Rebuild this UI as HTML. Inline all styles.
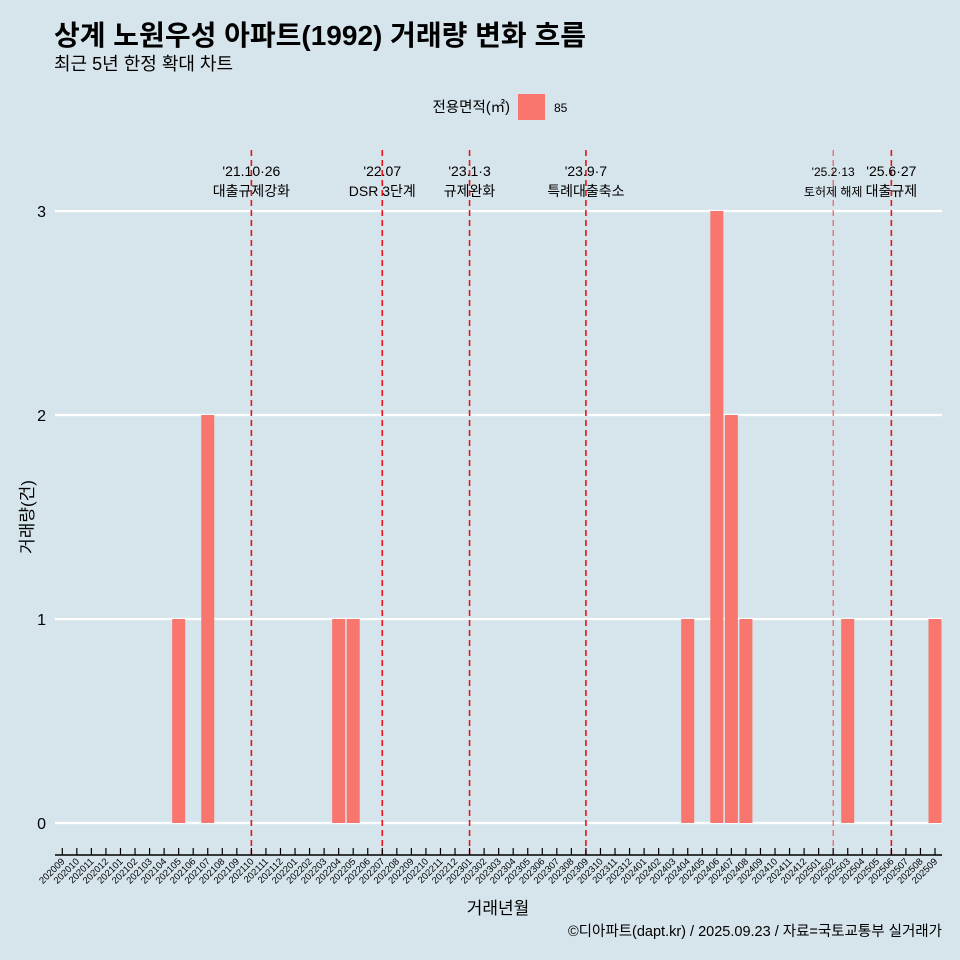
<!DOCTYPE html>
<html><head><meta charset="utf-8"><style>
html,body{margin:0;width:960px;height:960px;overflow:hidden;background:#d6e4eb;font-family:"Liberation Sans","Noto Sans CJK KR",sans-serif}
svg{display:block}
</style></head><body>
<svg width="960" height="960" viewBox="0 0 960 960" xmlns="http://www.w3.org/2000/svg" style="font-family:'Liberation Sans','Noto Sans CJK KR',sans-serif">
<rect width="960" height="960" fill="#d6e4eb"/>
<text x="54" y="45" font-size="28" font-weight="bold" fill="#000">상계 노원우성 아파트(1992) 거래량 변화 흐름</text>
<text x="54" y="70" font-size="18" fill="#000">최근 5년 한정 확대 차트</text>
<g>
<text x="510" y="112" font-size="14.5" text-anchor="end">전용면적(㎡)</text>
<rect x="518" y="94" width="27" height="26" fill="#f8766d"/>
<text x="554" y="112" font-size="12">85</text>
</g>
<g id="grid"></g><g id="bars"></g><g id="events"></g><g id="xaxis"></g>
<text x="33" y="517" font-size="17" text-anchor="middle" transform="rotate(-90 33 517)">거래량(건)</text>
<text x="498" y="914" font-size="17" text-anchor="middle">거래년월</text>
<text x="942" y="936" font-size="14.5" text-anchor="end">©디아파트(dapt.kr) / 2025.09.23 / 자료=국토교통부 실거래가</text>
</svg>
<script>
const categories=[];for(let y=2020,m=9;y*100+m<=202509;){categories.push(String(y*100+m));m++;if(m>12){m=1;y++;}}
const barMonths=["202105","202107","202204","202205","202404","202406","202407","202408","202503","202509"];
const barValues=[1,2,1,1,1,3,2,1,1,1];
const yTicks=[0,1,2,3];
const eventMonths=["202110","202207","202301","202309","202502","202506"];
const eventLine1=["'21.10·26","'22.07","'23.1·3","'23.9·7","'25.2·13","'25.6·27"];
const eventLine2=["대출규제강화","DSR 3단계","규제완화","특례대출축소","토허제 해제","대출규제"];
const NS="http://www.w3.org/2000/svg";
const xS=c=>62.3+categories.indexOf(c)*(935-62.3)/(categories.length-1);
const yS=v=>823-v*204;
function mk(p,t,a){const e=document.createElementNS(NS,t);for(const k in a)e.setAttribute(k,a[k]);document.getElementById(p).appendChild(e);return e;}
yTicks.forEach(v=>{
 const l=mk('grid','line',{x1:55,x2:942,y1:yS(v),y2:yS(v),stroke:'#fff','stroke-width':2.2});
 
 
 const t=mk('grid','text',{x:46,y:yS(v)+6,'font-size':16,'text-anchor':'end'});t.textContent=v;
 
 
});
const bw=13;
barMonths.forEach((m,i)=>{
 const r=mk('bars','rect',{x:xS(m)-bw/2,y:yS(barValues[i]),width:bw,height:yS(0)-yS(barValues[i]),fill:'#f8766d'});
 
 
});
eventMonths.forEach((m,i)=>{
 const x=xS(m),small=m==="202502";
 const l=mk('events','line',{x1:x,x2:x,y1:150,y2:855,stroke:small?'#ee4444':'#e8141a','stroke-width':small?1:1.6,'stroke-dasharray':'6,4'});
 
 
 const fs=small?12:14;
 const t1=mk('events','text',{x:x,y:176,'font-size':fs,'text-anchor':'middle'});t1.textContent=eventLine1[i];
 
 
 const t2=mk('events','text',{x:x,y:196,'font-size':fs,'text-anchor':'middle'});t2.textContent=eventLine2[i];
 
 
});
const ax=mk('xaxis','line',{x1:55,x2:942,y1:855,y2:855,stroke:'#000','stroke-width':1.5});


categories.forEach(c=>{
 const x=xS(c);
 const tk=mk('xaxis','line',{x1:x,x2:x,y1:848,y2:855,stroke:'#000','stroke-width':1.2});
 
 
 const t=mk('xaxis','text',{x:x+3,y:862,'font-size':9.5,'text-anchor':'end',transform:`rotate(-45 ${x+3} 862)`});t.textContent=c;
 
 
});
</script>
</body></html>
